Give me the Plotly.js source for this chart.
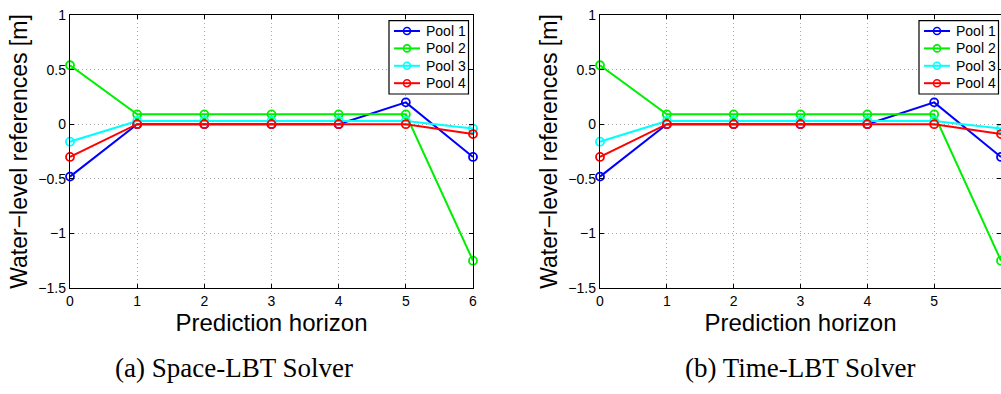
<!DOCTYPE html>
<html>
<head>
<meta charset="utf-8">
<script src="https://cdn.plot.ly/plotly-3.0.1.min.js"></script>
<style>
  html, body { margin: 0; padding: 0; background: #fff; }
  #chart { width: 1001px; height: 394px; }
</style>
</head>
<body>
<div id="chart"></div>
<script>
// Prediction horizon steps and water-level references per pool [m]
const horizon = [0, 1, 2, 3, 4, 5, 6];
const pool1 = [-0.48, 0, 0, 0, 0, 0.2, -0.3];
const pool2 = [0.54, 0.09, 0.09, 0.09, 0.09, 0.09, -1.25];
const pool3 = [-0.16, 0.03, 0.03, 0.03, 0.03, 0.03, -0.04];
const pool4 = [-0.3, 0, 0, 0, 0, 0, -0.09];

const poolNames = ['Pool 1', 'Pool 2', 'Pool 3', 'Pool 4'];
const poolSeries = [pool1, pool2, pool3, pool4];
const poolColors = ['#0000ff', '#00ee00', '#00ffff', '#ff0000'];

const xTicks = [0, 1, 2, 3, 4, 5, 6];
const yTicks = [1, 0.5, 0, -0.5, -1, -1.5];
const yTickText = ['1', '0.5', '0', '\u22120.5', '\u22121', '\u22121.5'];

const captions = ['(a) Space-LBT Solver', '(b) Time-LBT Solver'];

const W = 1001, H = 394;
const px = v => v / W;          // pixel column -> paper x
const py = v => 1 - v / H;      // pixel row -> paper y

const traces = [];
[['x', 'y'], ['x2', 'y2']].forEach(([xa, ya]) => {
  poolSeries.forEach((vals, i) => {
    traces.push({
      type: 'scatter',
      mode: 'lines+markers',
      x: horizon,
      y: vals,
      xaxis: xa,
      yaxis: ya,
      name: poolNames[i],
      showlegend: false,
      line: { color: poolColors[i], width: 2 },
      marker: { symbol: 'circle-open', size: 8, color: poolColors[i], line: { width: 1.8, color: poolColors[i] } },
      cliponaxis: false
    });
  });
});

const font = 'Liberation Sans, Arial, Helvetica, sans-serif';

function xAxis(domain, anchor) {
  return {
    domain: domain,
    anchor: anchor,
    range: [0, 6],
    tickvals: xTicks,
    ticktext: xTicks.map(String),
    ticks: 'inside',
    ticklen: 4,
    tickcolor: '#000',
    showline: true,
    linecolor: '#000',
    linewidth: 1.2,
    mirror: 'ticks',
    showgrid: true,
    gridcolor: '#a8a8a8',
    griddash: '1px,3px',
    gridwidth: 1,
    zeroline: false,
    tickfont: { family: font, size: 14, color: '#000' },
    title: { text: 'Prediction horizon', font: { family: font, size: 24, color: '#000' }, standoff: 0 },
    fixedrange: true
  };
}

function yAxis(anchor) {
  return {
    domain: [py(288), py(15)],
    anchor: anchor,
    range: [-1.5, 1],
    tickvals: yTicks,
    ticktext: yTickText,
    ticks: 'inside',
    ticklen: 4,
    tickcolor: '#000',
    showline: true,
    linecolor: '#000',
    linewidth: 1.2,
    mirror: 'ticks',
    showgrid: true,
    gridcolor: '#a8a8a8',
    griddash: '1px,3px',
    gridwidth: 1,
    zeroline: false,
    tickfont: { family: font, size: 14, color: '#000' },
    title: { text: 'Water\u2212level references [m]', font: { family: font, size: 23, color: '#000' }, standoff: 4 },
    fixedrange: true
  };
}

// Boxed key in the upper right corner of each panel
const shapes = [];
const annotations = [];
function addKey(left) {
  const right = left + 79.5, top = 20.7, bottom = 94;
  shapes.push({
    type: 'rect', xref: 'paper', yref: 'paper',
    x0: px(left), x1: px(right), y0: py(bottom), y1: py(top),
    fillcolor: '#fff', line: { color: '#000', width: 1.2 }
  });
  poolNames.forEach((name, i) => {
    const rowY = 31 + i * 17.4;
    const c = poolColors[i];
    shapes.push({
      type: 'line', xref: 'paper', yref: 'paper',
      x0: px(left + 5), x1: px(left + 31), y0: py(rowY), y1: py(rowY),
      line: { color: c, width: 2 }
    });
    shapes.push({
      type: 'circle', xref: 'paper', yref: 'paper',
      x0: px(left + 14.5), x1: px(left + 21.5), y0: py(rowY + 3.5), y1: py(rowY - 3.5),
      fillcolor: 'rgba(0,0,0,0)', line: { color: c, width: 1.6 }
    });
    annotations.push({
      text: name, xref: 'paper', yref: 'paper',
      x: px(left + 34.5), y: py(rowY), xanchor: 'left', yanchor: 'middle',
      showarrow: false, font: { family: font, size: 14, color: '#000' }
    });
  });
}
addKey(389);
addKey(919);

[[captions[0], 234], [captions[1], 800]].forEach(([text, cx]) => {
  annotations.push({
    text: text, xref: 'paper', yref: 'paper', x: px(cx), y: py(368),
    xanchor: 'center', yanchor: 'middle', showarrow: false,
    font: { family: 'Liberation Serif, Times New Roman, serif', size: 27, color: '#000' }
  });
});

const layout = {
  width: W,
  height: H,
  margin: { l: 0, r: 0, t: 0, b: 0 },
  paper_bgcolor: '#fff',
  plot_bgcolor: '#fff',
  showlegend: false,
  xaxis: xAxis([px(70), px(473)], 'y'),
  yaxis: yAxis('x'),
  xaxis2: xAxis([px(600), 1], 'y2'),
  yaxis2: yAxis('x2'),
  shapes: shapes,
  annotations: annotations
};

Plotly.newPlot('chart', traces, layout, { displayModeBar: false, staticPlot: true });
</script>
</body>
</html>
